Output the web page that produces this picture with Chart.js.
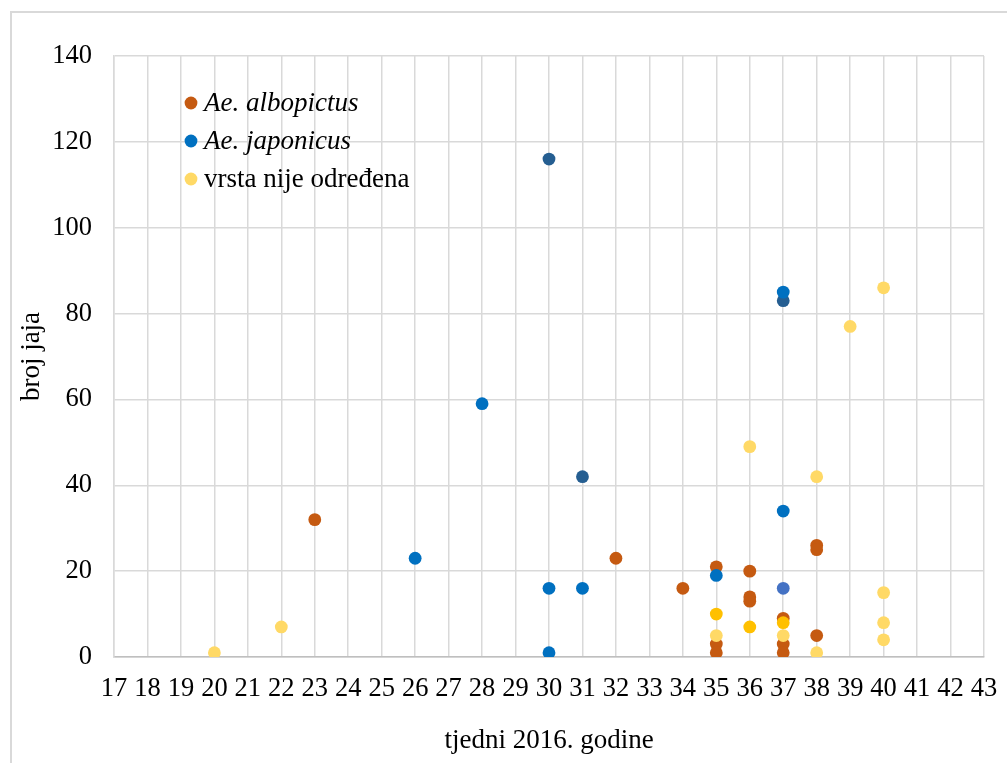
<!DOCTYPE html>
<html>
<head>
<meta charset="utf-8">
<script src="https://cdn.jsdelivr.net/npm/chart.js@4/dist/chart.umd.min.js"></script>
<style>
  html, body { margin: 0; padding: 0; background: #fff; overflow: hidden; width: 1007px; height: 763px; }
  #frame { position: absolute; left: 10px; top: 11px; width: 1200px; height: 900px; border-left: 2px solid #D9D9D9; border-top: 2px solid #D9D9D9; }
  #c { position: absolute; left: 0; top: 0; }
</style>
</head>
<body>
<div id="frame"></div>
<canvas id="c" width="1007" height="763"></canvas>
<script>
// ---- data ----
const weekTicksMin = 17;
const weekTicksMax = 43;
const eggTicksMax = 140;
const eggTickStep = 20;

const seriesLabels = ['Ae. albopictus', 'Ae. japonicus', 'vrsta nije određena'];
const seriesItalic = [true, true, false];

const albopictusWeeks = [23, 32, 34, 35, 35, 35, 36, 36, 36, 37, 37, 37, 38, 38, 38];
const albopictusEggs  = [32, 23, 16, 21,  3,  1, 20, 14, 13,  9,  3,  1, 26, 25,  5];

const japonicusWeeks = [26, 28, 30, 30, 31, 35, 37, 37];
const japonicusEggs  = [23, 59, 16,  1, 16, 19, 85, 34];

const undeterminedWeeks = [20, 22, 35, 36, 37, 38, 38, 39, 40, 40, 40, 40];
const undeterminedEggs  = [ 1,  7,  5, 49,  5, 42,  1, 77, 86, 15,  8,  4];

// additional unlabeled point groups (different shades in the original)
const darkBlueWeeks = [30, 31, 37];
const darkBlueEggs  = [116, 42, 83];
const midBlueWeeks = [37];
const midBlueEggs  = [16];
const goldWeeks = [35, 36, 37];
const goldEggs  = [10, 7, 8];

const colors = {
  albopictus: '#C55A11',
  japonicus: '#0070C0',
  undetermined: '#FFD966',
  darkBlue: '#255E91',
  midBlue: '#4472C4',
  gold: '#FFC000'
};

function pts(xs, ys) { return xs.map((x, i) => ({ x: x, y: ys[i] })); }

function ds(label, xs, ys, color, order) {
  return {
    label: label,
    data: pts(xs, ys),
    backgroundColor: color,
    borderColor: color,
    borderWidth: 0,
    pointRadius: 6.4,
    pointHoverRadius: 6.4,
    showLine: false,
    order: order
  };
}

const FONT = '"Liberation Serif", "Times New Roman", serif';

const insideLegend = {
  id: 'insideLegend',
  afterDatasetsDraw(chart) {
    const { ctx, chartArea } = chart;
    ctx.save();
    for (let i = 0; i < 3; i++) {
      const d = chart.data.datasets[i];
      const cx = chartArea.left + 77;
      const cy = chartArea.top + 47 + i * 38;
      ctx.beginPath();
      ctx.arc(cx, cy, 6.4, 0, Math.PI * 2);
      ctx.fillStyle = d.backgroundColor;
      ctx.fill();
      ctx.font = (seriesItalic[i] ? 'italic ' : '') + '27px ' + FONT;
      ctx.fillStyle = '#000';
      ctx.textBaseline = 'middle';
      ctx.textAlign = 'left';
      ctx.fillText(seriesLabels[i], cx + 13, cy + 1);
    }
    ctx.restore();
  }
};

new Chart(document.getElementById('c'), {
  type: 'scatter',
  data: {
    datasets: [
      ds(seriesLabels[0], albopictusWeeks, albopictusEggs, colors.albopictus, 6),
      ds(seriesLabels[1], japonicusWeeks, japonicusEggs, colors.japonicus, 3),
      ds(seriesLabels[2], undeterminedWeeks, undeterminedEggs, colors.undetermined, 2),
      ds('', darkBlueWeeks, darkBlueEggs, colors.darkBlue, 5),
      ds('', midBlueWeeks, midBlueEggs, colors.midBlue, 4),
      ds('', goldWeeks, goldEggs, colors.gold, 1)
    ]
  },
  options: {
    responsive: false,
    animation: false,
    layout: { padding: { left: 0, top: 56, right: 23, bottom: 0 } },
    plugins: { legend: { display: false }, tooltip: { enabled: false } },
    scales: {
      x: {
        type: 'linear',
        min: weekTicksMin,
        max: weekTicksMax,
        afterFit(scale) { scale.height = 106; scale.paddingLeft = 0; scale.paddingRight = 0; },
        ticks: {
          stepSize: 1,
          autoSkip: false,
          maxRotation: 0,
          padding: 16,
          color: '#000',
          font: { family: FONT, size: 26.5 }
        },
        grid: { color: '#D9D9D9', lineWidth: 1.5, drawTicks: false },
        border: { color: '#BFBFBF', width: 1.5 },
        title: {
          display: true,
          text: 'tjedni 2016. godine',
          color: '#000',
          font: { family: FONT, size: 27 },
          padding: { top: 0, bottom: 6 }
        }
      },
      y: {
        min: 0,
        max: eggTicksMax,
        afterFit(scale) { scale.width = 114; scale.paddingTop = 0; scale.paddingBottom = 0; },
        ticks: {
          stepSize: eggTickStep,
          padding: 22,
          color: '#000',
          font: { family: FONT, size: 26.5 }
        },
        grid: { color: '#D9D9D9', lineWidth: 1.5, drawTicks: false },
        border: { color: '#D9D9D9', width: 1.5 },
        title: {
          display: true,
          text: 'broj jaja',
          color: '#000',
          font: { family: FONT, size: 27 },
          padding: { top: 16, bottom: 0 }
        }
      }
    }
  },
  plugins: [insideLegend]
});
</script>
</body>
</html>
